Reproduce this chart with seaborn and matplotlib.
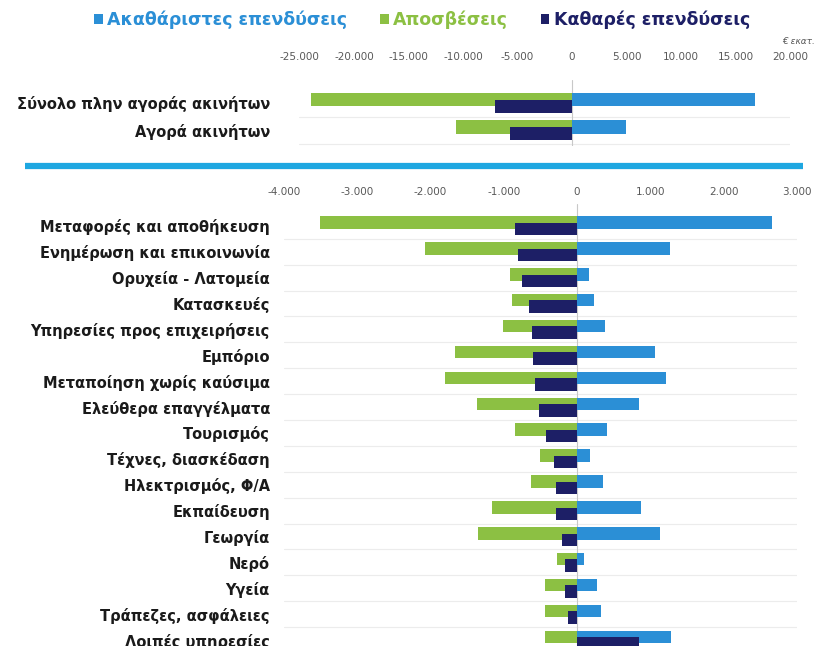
import matplotlib
matplotlib.use('Agg')
import matplotlib.pyplot as plt
import seaborn as sns
import pandas as pd
import numpy as np
from matplotlib.patches import Patch
from matplotlib.lines import Line2D

# values in million euro
series_names = ['Ακαθάριστες επενδύσεις', 'Αποσβέσεις', 'Καθαρές επενδύσεις']

top_cats = ['Σύνολο πλην αγοράς ακινήτων', 'Αγορά ακινήτων']
top_gross = [16800, 4950]
top_depr = [-23900, -10600]
top_net = [-7100, -5650]
top_ticks = [-25000, -20000, -15000, -10000, -5000, 0, 5000, 10000, 15000, 20000]

sector_cats = ['Μεταφορές και αποθήκευση', 'Ενημέρωση και επικοινωνία', 'Ορυχεία - Λατομεία',
               'Κατασκευές', 'Υπηρεσίες προς επιχειρήσεις', 'Εμπόριο', 'Μεταποίηση χωρίς καύσιμα',
               'Ελεύθερα επαγγέλματα', 'Τουρισμός', 'Τέχνες, διασκέδαση', 'Ηλεκτρισμός, Φ/Α',
               'Εκπαίδευση', 'Γεωργία', 'Νερό', 'Υγεία', 'Τράπεζες, ασφάλειες', 'Λοιπές υπηρεσίες']
sector_gross = [2660, 1270, 160, 230, 380, 1060, 1210, 850, 410, 180, 350, 870, 1130, 100, 270, 320, 1280]
sector_depr = [-3500, -2070, -910, -890, -1010, -1660, -1800, -1370, -850, -500, -630, -1160, -1350, -280, -440, -440, -440]
sector_net = [-840, -800, -750, -660, -620, -600, -580, -520, -420, -310, -290, -290, -210, -160, -170, -130, 840]
sector_ticks = [-4000, -3000, -2000, -1000, 0, 1000, 2000, 3000]

blue = '#2b8fd6'
green = '#8cc043'
navy = '#1d1f66'
colors = [blue, green, navy]

W, H = 820, 646


def px_axes(fig, left, top, right, bottom):
    return fig.add_axes([left / W, 1 - bottom / H, (right - left) / W, (bottom - top) / H])


def fmt(v):
    return f'{v:,.0f}'.replace(',', '.')


def draw_panel(ax, cats, gross, depr, net, ticks, label_pad, tick_pad):
    pos = np.arange(len(cats))
    df = pd.DataFrame({
        'pos': np.concatenate([pos, pos]),
        'series': [series_names[0]] * len(cats) + [series_names[1]] * len(cats),
        'value': list(gross) + list(depr),
    })
    df_net = pd.DataFrame({'pos': pos + 0.25, 'value': net})

    for y in pos + 0.625:
        ax.axhline(y, color='#ececec', lw=0.8, zorder=0)
    ax.axvline(0, color='#c8c8c8', lw=0.8, zorder=0)

    sns.barplot(data=df, x='value', y='pos', hue='series', orient='h', native_scale=True,
                dodge=False, width=0.48, palette=colors[:2], errorbar=None, legend=False,
                saturation=1, linewidth=0, ax=ax)
    sns.barplot(data=df_net, x='value', y='pos', orient='h', native_scale=True,
                width=0.48, color=navy, errorbar=None, saturation=1, linewidth=0, ax=ax)

    ax.set_xlim(ticks[0], ticks[-1])
    ax.set_ylim(len(cats) - 0.3, -0.7)
    ax.xaxis.tick_top()
    ax.set_xticks(ticks)
    ax.set_xticklabels([fmt(t) for t in ticks])
    ax.set_yticks(pos + 0.125)
    ax.set_yticklabels(cats, fontweight='bold', fontsize=10.5, color='#1a1a1a')
    ax.tick_params(axis='x', length=0, labelsize=7.5, colors='#595959', pad=tick_pad)
    ax.tick_params(axis='y', length=0, pad=label_pad)
    ax.set_xlabel('')
    ax.set_ylabel('')
    for s in ax.spines.values():
        s.set_visible(False)


sns.set_style('white')
plt.rcParams['font.family'] = ['DejaVu Sans']

fig = plt.figure(figsize=(8.2, 6.46), dpi=100)

ax1 = px_axes(fig, 299.5, 80.25, 790, 146.25)
draw_panel(ax1, top_cats, top_gross, top_depr, top_net, top_ticks, label_pad=21, tick_pad=13)

ax2 = px_axes(fig, 283.8, 204.4, 797, 222.5 + 16.7 * 25.9)
draw_panel(ax2, sector_cats, sector_gross, sector_depr, sector_net, sector_ticks, label_pad=10, tick_pad=5)

# separator line between the two panels
fig.add_artist(Line2D([25 / W, 803 / W], [1 - 166 / H, 1 - 166 / H], color='#1ea7e1', lw=4.5,
                      solid_capstyle='butt', transform=fig.transFigure))

fig.text(815 / W, 1 - 42 / H, '€ εκατ.', ha='right', va='center', fontsize=6.5,
         style='italic', color='#595959')

handles = [Patch(facecolor=c, edgecolor='none') for c in colors]
fig.legend(handles, series_names, loc='center', bbox_to_anchor=(422 / W, 1 - 20 / H), ncol=3,
           frameon=False, prop={'weight': 'bold', 'size': 12.5}, labelcolor=colors,
           handlelength=0.5, handleheight=0.5, handletextpad=0.25, columnspacing=1.9,
           borderaxespad=0)

fig.savefig('out.png', dpi=100)
